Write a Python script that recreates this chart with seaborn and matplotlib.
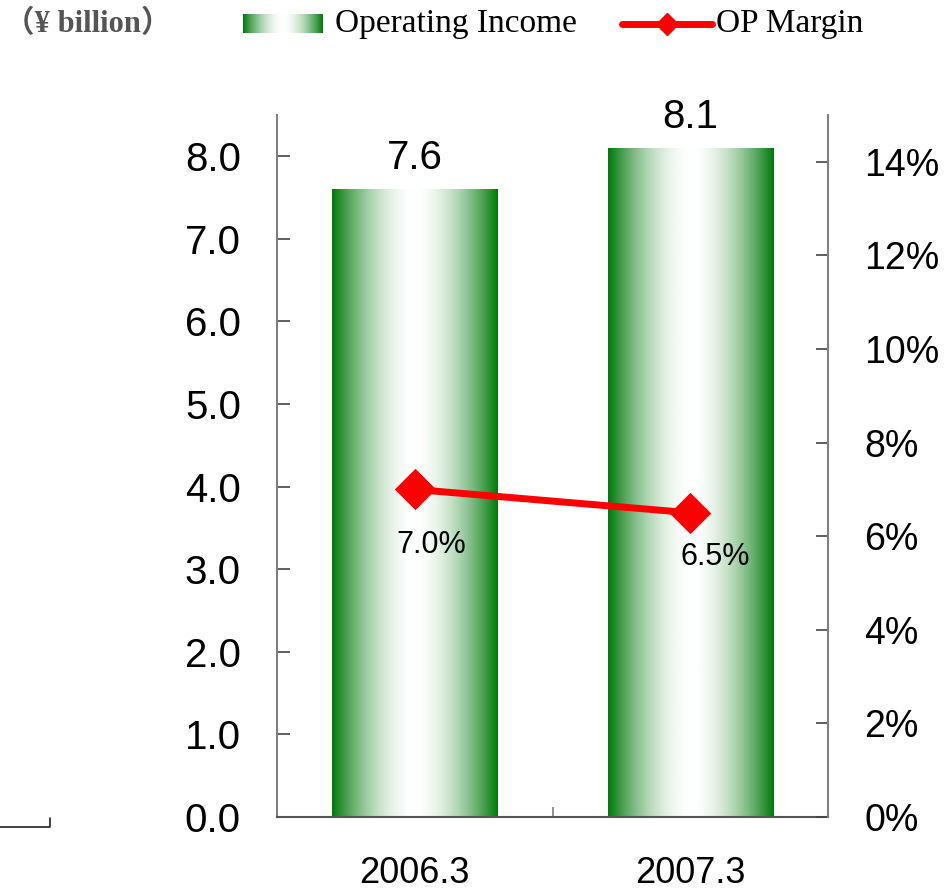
import matplotlib

matplotlib.use("Agg")
import matplotlib.pyplot as plt
import numpy as np
import seaborn as sns
from matplotlib.colors import LinearSegmentedColormap
from matplotlib.lines import Line2D

# --- data ---------------------------------------------------------------- #
years = ["2006.3", "2007.3"]
income = [7.6, 8.1]        # ¥ billion
margin = [7.0, 6.5]        # %
left_ticks = [0, 1, 2, 3, 4, 5, 6, 7, 8]
right_ticks = [0, 2, 4, 6, 8, 10, 12, 14]

GREEN = "#007a0a"
RED = "#ff0000"
AXIS_GRAY = "#808080"

sns.set_style("white")
plt.rcParams["font.family"] = ["Liberation Sans", "DejaVu Sans"]
plt.rcParams["text.color"] = "black"
plt.rcParams["xtick.labelcolor"] = "black"
plt.rcParams["ytick.labelcolor"] = "black"

fig = plt.figure(figsize=(9.51, 8.91), dpi=100)
ax = fig.add_axes([277 / 951, 1 - 817 / 891, 551 / 951, 702 / 891])
ax2 = ax.twinx()

# bars (seaborn) then a green-white-green gradient clipped to each bar
sns.barplot(x=years, y=income, ax=ax, color=GREEN, width=0.6, saturation=1)
grad_cmap = LinearSegmentedColormap.from_list("gw", [GREEN, "#ffffff", GREEN])
t = np.linspace(0, 1, 256)
shade = 0.5 + 0.5 * np.sign(t - 0.5) * np.abs(2 * t - 1) ** 1.8
grad = shade.reshape(1, -1)
for p in list(ax.patches):
    x0, w, h = p.get_x(), p.get_width(), p.get_height()
    im = ax.imshow(grad, cmap=grad_cmap, vmin=0, vmax=1, aspect="auto",
                   extent=[x0, x0 + w, 0, h], zorder=2)
    im.set_clip_path(p)
    p.set_facecolor("none")
    p.set_edgecolor("none")

for i, v in enumerate(income):
    ax.annotate(f"{v:.1f}", (i, v), xytext=(0, 9), textcoords="offset points",
                ha="center", va="bottom", fontsize=29)

# line on the right axis
sns.pointplot(x=years, y=margin, ax=ax2, color=RED, markers="D",
              linestyles="-", markersize=17, linewidth=5)
label_offsets = [(12, -40), (18, -32)]
for i, v in enumerate(margin):
    ax2.annotate(f"{v:.1f}%", (i, v), xytext=label_offsets[i],
                 textcoords="offset points", ha="center", va="center",
                 fontsize=22)

# axes styling
ax.set_xlim(-0.5, 1.5)
ax.set_ylim(0, 8.5)
ax2.set_ylim(0, 15)
ax.set_xlabel("")
ax.set_ylabel("")
ax2.set_ylabel("")

ax.set_yticks(left_ticks)
ax.set_yticklabels([f"{v:.1f}" for v in left_ticks])
ax2.set_yticks(right_ticks)
ax2.set_yticklabels([f"{v}%" for v in right_ticks])
ax.set_xticks(range(len(years)))
ax.set_xticklabels(years)
ax.set_xticks([0.5], minor=True)

for a in (ax, ax2):
    a.spines["top"].set_visible(False)
    for side in ("left", "right", "bottom"):
        a.spines[side].set_color(AXIS_GRAY)
        a.spines[side].set_linewidth(1.5)
ax.spines["right"].set_visible(False)
ax2.spines["left"].set_visible(False)
ax2.spines["bottom"].set_visible(False)
ax.spines["bottom"].set_color("#555555")

ax.tick_params(axis="y", direction="in", length=9, width=1.2, color="#444444",
               labelsize=29, pad=26, left=True)
ax2.tick_params(axis="y", direction="in", length=9, width=1.2, color="#444444",
                labelsize=27, pad=26, right=True)
ax.tick_params(axis="x", which="major", length=0, labelsize=26, pad=28)
ax.tick_params(axis="x", which="minor", direction="in", length=7, width=1.2,
               color=AXIS_GRAY, bottom=True)
ax.set_zorder(1)
ax2.set_zorder(2)
ax2.patch.set_visible(False)

# header: unit label and a hand-made legend
fig.text(4 / 951, 1 - 24 / 891, "（¥ billion）", fontsize=22, fontweight="bold",
         color="#555555", va="center", ha="left",
         family=["Liberation Serif", "Noto Sans CJK JP"])

lax = fig.add_axes([243 / 951, 1 - 33 / 891, 80 / 951, 19 / 891])
lax.imshow(grad, cmap=grad_cmap, vmin=0, vmax=1, aspect="auto")
lax.set_axis_off()
fig.text(335 / 951, 1 - 24 / 891, "Operating Income", fontsize=24,
         family="Liberation Serif", va="center", ha="left")

fig.add_artist(Line2D([622 / 951, 712 / 951], [1 - 24 / 891, 1 - 24 / 891],
                      color=RED, lw=5, solid_capstyle="round",
                      transform=fig.transFigure))
fig.add_artist(Line2D([667 / 951], [1 - 24 / 891], color=RED, marker="D",
                      markersize=11, transform=fig.transFigure))
fig.text(716 / 951, 1 - 24 / 891, "OP Margin", fontsize=24,
         family="Liberation Serif", va="center", ha="left")

# stray corner mark seen at the bottom left of the original
fig.add_artist(Line2D([0, 50 / 951, 50 / 951],
                      [1 - 827 / 891, 1 - 827 / 891, 1 - 818 / 891],
                      color="#222222", lw=1.2, transform=fig.transFigure))

fig.savefig("out.png", dpi=100)
